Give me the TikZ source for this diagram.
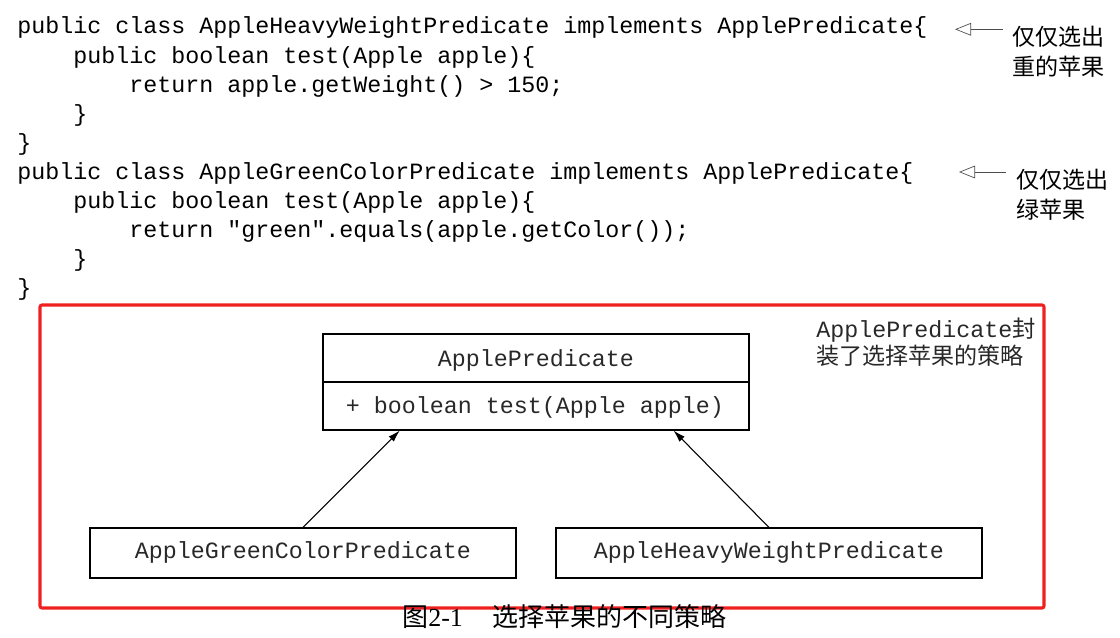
\documentclass[tikz,border=0pt]{standalone}
\usepackage{fontspec}
\setmonofont{Liberation Mono}
\newfontfamily\cjk{Noto Sans CJK SC}
\newfontfamily\serifl{Liberation Serif}
\usetikzlibrary{arrows.meta,calc}
\definecolor{framered}{RGB}{238,32,32}
\definecolor{txt}{RGB}{40,40,40}
\newcommand\codefont{\ttfamily\fontsize{17.5}{21}\selectfont}
\begin{document}
\begin{tikzpicture}[x=0.75pt,y=-0.75pt,
  code/.style={anchor=base west,inner sep=0pt,font=\codefont,text=black},
  umltext/.style={anchor=base,inner sep=0pt,font=\codefont,text=txt},
  umlbox/.style={draw,line width=0.8pt,minimum width=319.5pt,minimum height=37.5pt,inner sep=0pt,font=\codefont,text=txt,text height=11pt,text depth=3pt},
  cjklabel/.style={anchor=base west,inner sep=0pt,font=\cjk\fontsize{17.3}{21}\selectfont,text=black},
  sidelabel/.style={cjklabel},
  inherit/.style={-{Latex[length=9pt,width=5.5pt]},line width=0.8pt},
  pointer/.style={-{Triangle[open,length=12pt,width=9.5pt]},line width=0.5pt,draw=black!70}
]
\useasboundingbox (0,0) rectangle (1120,638);
% code
\node[code] (c1) at (17,34) {public class AppleHeavyWeightPredicate implements ApplePredicate\{};
\node[code] (c2) at (73,63.1) {public boolean test(Apple apple)\{};
\node[code] (c3) at (129,92.2) {return apple.getWeight() > 150;};
\node[code] (c4) at (73,121.3) {\}};
\node[code] (c5) at (17,150.4) {\}};
\node[code] (c6) at (17,179.5) {public class AppleGreenColorPredicate implements ApplePredicate\{};
\node[code] (c7) at (73,208.6) {public boolean test(Apple apple)\{};
\node[code] (c8) at (129,237.7) {return "green".equals(apple.getColor());};
\node[code] (c9) at (73,266.8) {\}};
\node[code] (c10) at (17,295.9) {\}};
% side labels
\node[sidelabel] (l1a) at (1012,46) {仅仅选出};
\node[sidelabel] (l1b) at (1012,76) {重的苹果};
\node[sidelabel] (l2a) at (1016,189) {仅仅选出};
\node[sidelabel] (l2b) at (1016,219) {绿苹果};
\coordinate (s1) at (1003,29.3);
\coordinate (t1) at (955,29.3);
\coordinate (s2) at (1006,172);
\coordinate (t2) at (959,172);
\draw[pointer] (s1) -- (t1);
\draw[pointer] (s2) -- (t2);
% red frame
\draw[framered,line width=2.3pt,rounded corners=1.5pt] (40,305) rectangle (1044,608);
% UML
\node[draw,line width=0.8pt,minimum width=319.5pt,minimum height=72pt,inner sep=0pt] (ap) at (536,382) {};
\draw[line width=0.8pt] (ap.west) -- (ap.east);
\node[umltext] (apn) at (536,366) {ApplePredicate};
\node[umltext] (apm) at (535,413) {+ boolean test(Apple apple)};
\node[umlbox] (g) at (303,553) {AppleGreenColorPredicate};
\node[umlbox] (h) at (769,553) {AppleHeavyWeightPredicate};
\draw[inherit] (g.north) -- ($(ap.south west)!0.181!(ap.south east)$);
\draw[inherit] (h.north) -- ($(ap.south west)!0.822!(ap.south east)$);
\node[anchor=base west,inner sep=0pt,text=txt] (note1) at (816,337) {\codefont ApplePredicate\cjk 封};
\node[cjklabel,text=txt] (note2) at (816,364) {装了选择苹果的策略};
% caption
\node[anchor=base west,inner sep=0pt,font=\cjk\fontsize{19.5}{23}\selectfont,text=black] (cap) at (402,626) {图{\serifl 2-1}\hspace{22pt}选择苹果的不同策略};
\end{tikzpicture}
\end{document}
